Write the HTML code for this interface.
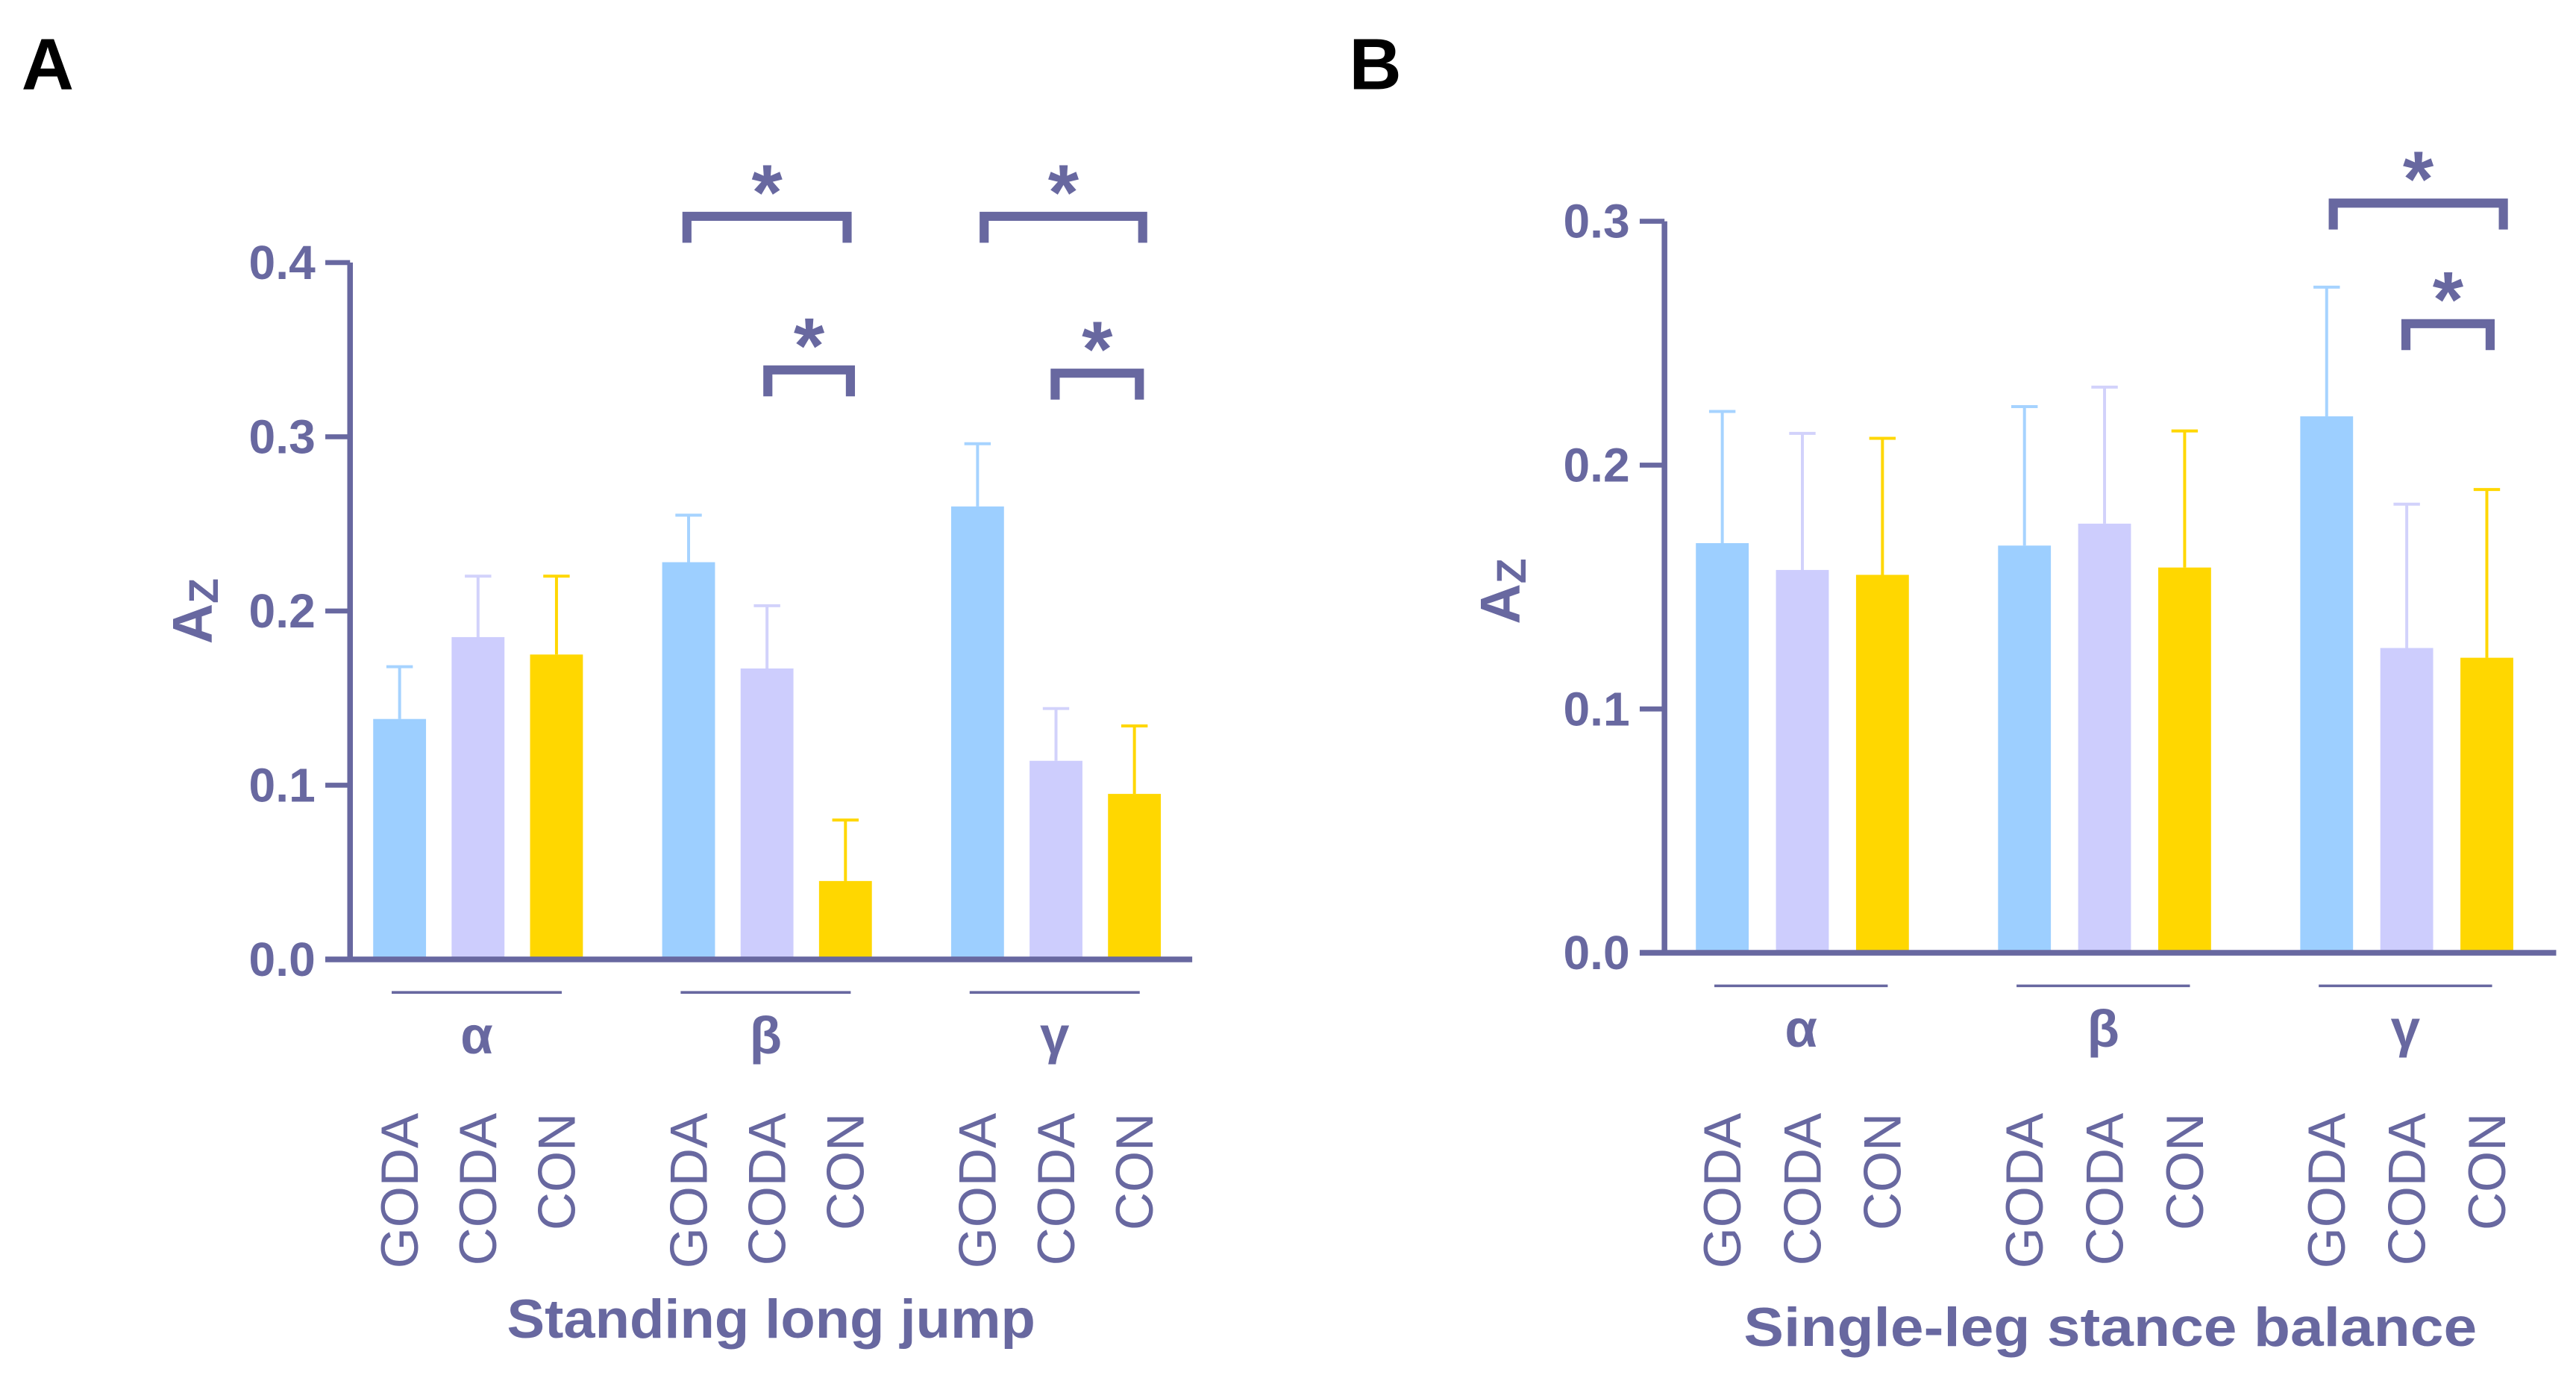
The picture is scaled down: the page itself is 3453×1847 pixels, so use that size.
<!DOCTYPE html>
<html><head><meta charset="utf-8"><style>
html,body{margin:0;padding:0;background:#fff;}
svg{display:block;}
text{font-family:"Liberation Sans",Arial,sans-serif;}
</style></head><body>
<svg id="fig" width="3453" height="1847" viewBox="0 0 1560 834.5" preserveAspectRatio="none" xmlns="http://www.w3.org/2000/svg">
<text x="13" y="54" font-size="44" font-weight="bold" fill="#000">A</text>
<text x="817" y="54" font-size="44" font-weight="bold" fill="#000">B</text>
<g id="pa"></g>
<g id="pb"></g>
</svg>
<script>
const groupsA = ["α","β","γ"];
const seriesNames = ["GODA","CODA","CON"];
const ticksA = ["0.0","0.1","0.2","0.3","0.4"];
const tickValsA = [0,0.1,0.2,0.3,0.4];
const meanA_GODA = [0.138,0.228,0.260];
const meanA_CODA = [0.185,0.167,0.114];
const meanA_CON  = [0.175,0.045,0.095];
const errA_GODA = [0.168,0.255,0.296];
const errA_CODA = [0.220,0.203,0.144];
const errA_CON  = [0.220,0.080,0.134];

const ticksB = ["0.0","0.1","0.2","0.3"];
const tickValsB = [0,0.1,0.2,0.3];
const meanB_GODA = [0.168,0.167,0.220];
const meanB_CODA = [0.157,0.176,0.125];
const meanB_CON  = [0.155,0.158,0.121];
const errB_GODA = [0.222,0.224,0.273];
const errB_CODA = [0.213,0.232,0.184];
const errB_CON  = [0.211,0.214,0.190];

const C = "#6868a0";
const fills = ["#9dcfff","#cdcdfd","#ffd700"];
const ebc = ["#a6d3ff","#d2d2fb","#ffd700"];
const NS="http://www.w3.org/2000/svg";
function el(parent,tag,attrs,txt){const e=document.createElementNS(NS,tag);for(const k in attrs)e.setAttribute(k,attrs[k]);if(txt!==undefined)e.textContent=txt;parent.appendChild(e);return e;}

function drawPanel(g,cfg){
  const y=v=>cfg.y0-(v/cfg.ymax)*(cfg.y0-cfg.ytop);
  const barX=(gi,si)=>cfg.gx[gi]+si*cfg.step;
  cfg.means.forEach((arr,si)=>{
    arr.forEach((v,gi)=>{
      const x=barX(gi,si), w=cfg.bw, cx=x+w/2;
      const top=y(cfg.errs[si][gi]);
      let l=el(g,'line',{x1:cx,x2:cx,y1:y(v),y2:top,stroke:ebc[si],'stroke-width':1.8});
      
      
      let c=el(g,'line',{x1:cx-8,x2:cx+8,y1:top,y2:top,stroke:ebc[si],'stroke-width':1.8});
      
      
      let r=el(g,'rect',{x:x,y:y(v),width:w,height:cfg.y0-y(v),fill:fills[si]});
      
      
      let t=el(g,'text',{transform:`translate(${cx+11},674) rotate(-90)`,'text-anchor':'end','font-size':32,fill:C},seriesNames[si]);
      
      
    });
  });
  let ya=el(g,'line',{x1:cfg.ax,x2:cfg.ax,y1:cfg.ytop,y2:cfg.y0+1.5,stroke:C,'stroke-width':3.4});
  
  
  let xa=el(g,'line',{x1:cfg.ax-15,x2:cfg.xend,y1:cfg.y0,y2:cfg.y0,stroke:C,'stroke-width':3.4});
  
  
  cfg.tickVals.forEach((v,i)=>{
    let tk=el(g,'line',{x1:cfg.ax-15,x2:cfg.ax,y1:y(v),y2:y(v),stroke:C,'stroke-width':3});
    
    
    let tl=el(g,'text',{x:cfg.ax-21,y:y(v)+10,'text-anchor':'end','font-size':29,'font-weight':'bold',fill:C},cfg.ticks[i]);
    
    
  });
  groupsA.forEach((gname,gi)=>{
    const x1=barX(gi,0)+cfg.bw*0.35, x2=barX(gi,2)+cfg.bw*0.6;
    let gl=el(g,'line',{x1:x1,x2:x2,y1:cfg.y0+20,y2:cfg.y0+20,stroke:C,'stroke-width':1.6});
    
    
    let gt=el(g,'text',{x:(x1+x2)/2,y:cfg.y0+57,'text-anchor':'middle','font-size':32,'font-weight':'bold',fill:C},gname);
    
    
  });
  let yt=el(g,'text',{transform:`translate(${cfg.ytx},${cfg.yty}) rotate(-90)`,'font-size':34,'font-weight':'bold',fill:C});
  
  
  el(yt,'tspan',{},'A');
  el(yt,'tspan',{'font-size':25,'font-weight':'bold',dy:4},'Z');
  let xt=el(g,'text',{x:cfg.titleX,y:cfg.titleY,'text-anchor':'middle','font-size':33,'font-weight':'bold',fill:C,textLength:cfg.titleW,lengthAdjust:'spacingAndGlyphs'},cfg.title);
  
  
  cfg.brackets.forEach(b=>{
    let p=el(g,'path',{d:`M${b[0]},${b[2]+16} V${b[2]} H${b[1]} V${b[2]+16}`,fill:'none',stroke:C,'stroke-width':5.5});
    
    
    let s=el(g,'text',{x:(b[0]+b[1])/2,y:b[2]+2,'text-anchor':'middle','font-size':48,'font-weight':'bold',fill:C},'*');
    
    
  });
}

drawPanel(document.getElementById('pa'),{
  y0:581,ytop:159,ymax:0.4,ax:212,xend:722,
  gx:[226,401,576],step:47.5,bw:32,
  means:[meanA_GODA,meanA_CODA,meanA_CON],errs:[errA_GODA,errA_CODA,errA_CON],
  ticks:ticksA,tickVals:tickValsA,ytx:128,yty:390,
  title:"Standing long jump",titleX:467,titleY:810,titleW:320,
  brackets:[[416,513,131],[465,515,224],[596,692,131],[639,690,226]]
});
drawPanel(document.getElementById('pb'),{
  y0:577,ytop:134,ymax:0.3,ax:1008,xend:1548,
  gx:[1027,1210,1393],step:48.5,bw:32,
  means:[meanB_GODA,meanB_CODA,meanB_CON],errs:[errB_GODA,errB_CODA,errB_CON],
  ticks:ticksB,tickVals:tickValsB,ytx:920,yty:378,
  title:"Single-leg stance balance",titleX:1278,titleY:815,titleW:444,
  brackets:[[1413,1516,123],[1457,1508,196]]
});
</script>
</body></html>
